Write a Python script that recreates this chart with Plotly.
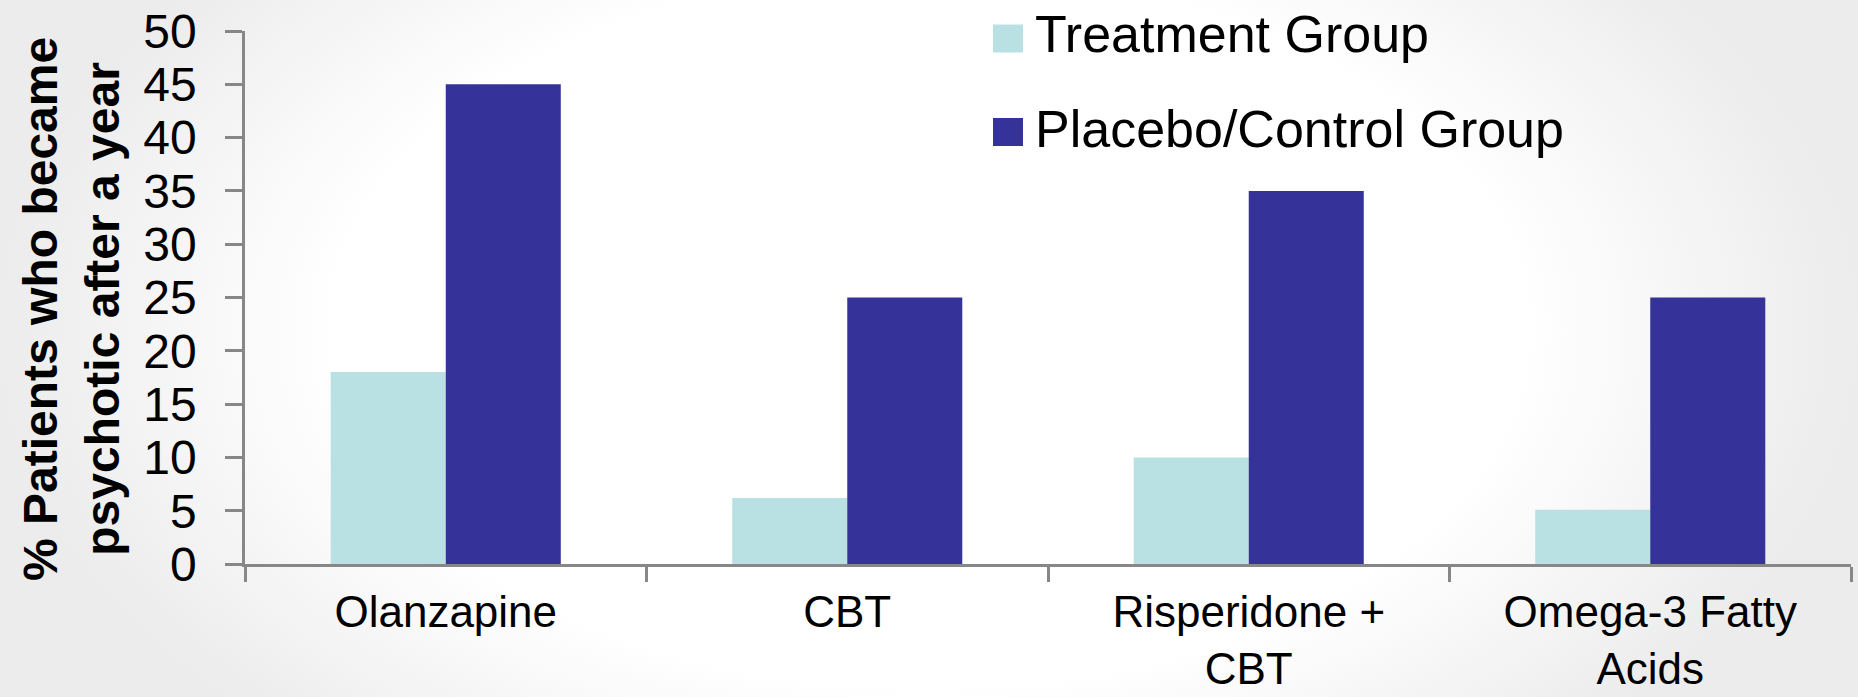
import base64
import plotly.graph_objects as go

# --- data -------------------------------------------------------------
categories = ["Olanzapine", "CBT", "Risperidone + CBT", "Omega-3 Fatty Acids"]
category_ticktext = ["Olanzapine", "CBT", "Risperidone +<br>CBT", "Omega-3 Fatty<br>Acids"]
treatment = [18, 6.2, 10, 5.1]
placebo = [45, 25, 35, 25]
series_names = ["Treatment Group", "Placebo/Control Group"]
y_ticks = [0, 5, 10, 15, 20, 25, 30, 35, 40, 45, 50]
y_title = "% Patients who became<br>psychotic after a year"

# --- layout constants -------------------------------------------------
W, H = 1858, 697
ML, MR, MT, MB = 245, 7, 31, 133
PW, PH = W - ML - MR, H - MT - MB

TEAL = "#B9E0E3"
NAVY = "#353399"
AXIS = "#878787"
FONT = "Liberation Sans, Arial, sans-serif"


def px_x(px):
    """pixel column -> paper x"""
    return (px - ML) / PW


def px_y(py):
    """pixel row -> paper y"""
    return (H - MB - py) / PH


fig = go.Figure()
fig.add_trace(go.Bar(x=categories, y=treatment, name=series_names[0],
                     marker=dict(color=TEAL, line=dict(width=0)), showlegend=False))
fig.add_trace(go.Bar(x=categories, y=placebo, name=series_names[1],
                     marker=dict(color=NAVY, line=dict(width=0)), showlegend=False))

# soft radial background
svg = (
    f'<svg xmlns="http://www.w3.org/2000/svg" width="{W}" height="{H}" '
    f'viewBox="0 0 {W} {H}" preserveAspectRatio="none"><defs>'
    '<radialGradient id="g" gradientUnits="userSpaceOnUse" cx="929" cy="330" r="929" '
    'gradientTransform="translate(929 330) scale(1 0.6) translate(-929 -330)">'
    '<stop offset="0.64" stop-color="#ffffff"/><stop offset="1" stop-color="#ececec"/>'
    '</radialGradient></defs>'
    f'<rect width="{W}" height="{H}" fill="url(#g)"/></svg>'
)
bg_src = "data:image/svg+xml;base64," + base64.b64encode(svg.encode()).decode()

annotations = []
# y-axis title
annotations.append(dict(
    x=px_x(71), y=px_y(309), xref="paper", yref="paper",
    xanchor="center", yanchor="middle", textangle=-90, showarrow=False,
    text=y_title, font=dict(family=FONT, size=48, color="black", weight="bold"),
))

# legend
shapes = []
legend_rows = [(series_names[0], TEAL, 38.5, 34), (series_names[1], NAVY, 132, 129)]
for name, color, cy, ty in legend_rows:
    shapes.append(dict(type="rect", xref="paper", yref="paper",
                       x0=px_x(993), x1=px_x(1023), y0=px_y(cy + 14), y1=px_y(cy - 14),
                       fillcolor=color, line=dict(width=0)))
    annotations.append(dict(
        x=px_x(1033), y=px_y(ty), xref="paper", yref="paper",
        xanchor="left", yanchor="middle", showarrow=False, text=name,
        font=dict(family=FONT, size=52, color="black"),
    ))

fig.update_layout(
    width=W, height=H,
    margin=dict(l=ML, r=MR, t=MT, b=MB, pad=0, autoexpand=False),
    paper_bgcolor="white",
    plot_bgcolor="rgba(0,0,0,0)",
    barmode="group", bargap=0.427, bargroupgap=0,
    showlegend=False,
    font=dict(family=FONT, color="black"),
    images=[dict(source=bg_src, xref="paper", yref="paper",
                 x=-ML / PW, y=1 + MT / PH, sizex=W / PW, sizey=H / PH,
                 xanchor="left", yanchor="top", sizing="stretch", layer="below")],
    annotations=annotations,
    shapes=shapes,
    xaxis=dict(
        type="category", tickvals=categories, ticktext=category_ticktext,
        tickfont=dict(family=FONT, size=44, color="black"),
        ticklabelstandoff=7, automargin=False,
        showgrid=False, zeroline=False,
        showline=True, linecolor=AXIS, linewidth=2.5,
        ticks="outside", tickson="boundaries", ticklen=15, tickwidth=2.5, tickcolor=AXIS,
    ),
    yaxis=dict(
        range=[0, 50], tickvals=y_ticks, showgrid=False, zeroline=False,
        showline=True, linecolor=AXIS, linewidth=2.5, automargin=False,
        ticks="outside", ticklen=17, tickwidth=2.5, tickcolor=AXIS,
        ticklabelstandoff=19,
        tickfont=dict(family=FONT, size=48, color="black"),
    ),
)

fig.write_html("out.html")
